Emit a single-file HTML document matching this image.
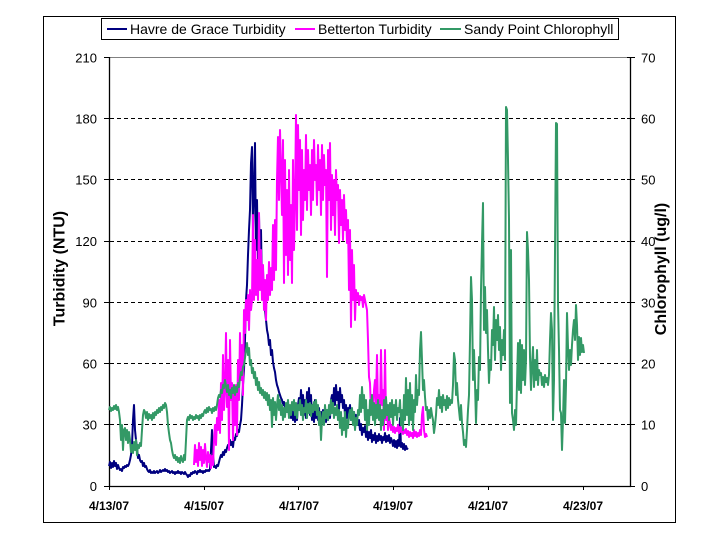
<!DOCTYPE html>
<html><head><meta charset="utf-8"><style>
html,body{margin:0;padding:0;background:#fff;}
svg{display:block;}
text{font-family:"Liberation Sans",Arial,sans-serif;fill:#000;}
</style></head><body>
<svg width="720" height="540" viewBox="0 0 720 540" xmlns="http://www.w3.org/2000/svg">
<rect x="0" y="0" width="720" height="540" fill="#fff"/>
<rect x="43.5" y="16.5" width="632" height="506" fill="none" stroke="#000" stroke-width="1"/>
<!-- plot top border -->
<line x1="110" y1="57.5" x2="630.5" y2="57.5" stroke="#808080" stroke-width="1"/>
<!-- gridlines -->
<g stroke="#000" stroke-width="1" stroke-dasharray="4,3">
<line x1="110" y1="424.5" x2="630" y2="424.5"/>
<line x1="110" y1="363.5" x2="630" y2="363.5"/>
<line x1="110" y1="302.5" x2="630" y2="302.5"/>
<line x1="110" y1="241.5" x2="630" y2="241.5"/>
<line x1="110" y1="179.5" x2="630" y2="179.5"/>
<line x1="110" y1="118.5" x2="630" y2="118.5"/>
</g>
<!-- axes -->
<g stroke="#000" stroke-width="1.3">
<line x1="109.5" y1="57" x2="109.5" y2="486.5"/>
<line x1="630.5" y1="57" x2="630.5" y2="486.5"/>
<line x1="109" y1="486.5" x2="631" y2="486.5"/>
</g>
<g stroke="#000" stroke-width="1">
<line x1="104" y1="486.5" x2="110" y2="486.5"/>
<line x1="104" y1="424.5" x2="110" y2="424.5"/>
<line x1="104" y1="363.5" x2="110" y2="363.5"/>
<line x1="104" y1="302.5" x2="110" y2="302.5"/>
<line x1="104" y1="241.5" x2="110" y2="241.5"/>
<line x1="104" y1="179.5" x2="110" y2="179.5"/>
<line x1="104" y1="118.5" x2="110" y2="118.5"/>
<line x1="104" y1="57.5" x2="110" y2="57.5"/>
<line x1="627" y1="486.5" x2="635" y2="486.5"/>
<line x1="627" y1="424.5" x2="635" y2="424.5"/>
<line x1="627" y1="363.5" x2="635" y2="363.5"/>
<line x1="627" y1="302.5" x2="635" y2="302.5"/>
<line x1="627" y1="241.5" x2="635" y2="241.5"/>
<line x1="627" y1="179.5" x2="635" y2="179.5"/>
<line x1="627" y1="118.5" x2="635" y2="118.5"/>
<line x1="627" y1="57.5" x2="635" y2="57.5"/>
<line x1="109.5" y1="486" x2="109.5" y2="490"/>
<line x1="204.5" y1="486" x2="204.5" y2="490"/>
<line x1="298.5" y1="486" x2="298.5" y2="490"/>
<line x1="393.5" y1="486" x2="393.5" y2="490"/>
<line x1="488.5" y1="486" x2="488.5" y2="490"/>
<line x1="583.5" y1="486" x2="583.5" y2="490"/>
</g>
<!-- y labels left -->
<g font-size="13" text-anchor="end">
<text x="97" y="491">0</text>
<text x="97" y="429.5">30</text>
<text x="97" y="368.5">60</text>
<text x="97" y="307.5">90</text>
<text x="97" y="246">120</text>
<text x="97" y="184.5">150</text>
<text x="97" y="123.5">180</text>
<text x="97" y="62.5">210</text>
</g>
<g font-size="13" text-anchor="start">
<text x="641" y="491">0</text>
<text x="641" y="429.5">10</text>
<text x="641" y="368.5">20</text>
<text x="641" y="307.5">30</text>
<text x="641" y="246">40</text>
<text x="641" y="184.5">50</text>
<text x="641" y="123.5">60</text>
<text x="641" y="62.5">70</text>
</g>
<!-- x labels -->
<g font-size="12" font-weight="bold" text-anchor="middle">
<text x="109" y="510">4/13/07</text>
<text x="204" y="510">4/15/07</text>
<text x="299" y="510">4/17/07</text>
<text x="393" y="510">4/19/07</text>
<text x="488" y="510">4/21/07</text>
<text x="583" y="510">4/23/07</text>
</g>
<!-- axis titles -->
<text font-size="16" font-weight="bold" text-anchor="middle" transform="translate(64.5,268.5) rotate(-90)">Turbidity (NTU)</text>
<text font-size="16" font-weight="bold" text-anchor="middle" transform="translate(666,269) rotate(-90)">Chlorophyll (ug/l)</text>

<!-- series -->
<g fill="none" stroke-width="2" stroke-linejoin="round">
<polyline stroke="#000080" points="109,466 110,462 111,468 112,463 113,467 114,461 115,466 116,463 117,469 118,465 119,468 120,470 121,469 122,471 123,467 124,468 125,466 126,467 127,465 128,466 129,464 130,460 131,455 132,445 133,420 134,405 135,430 136,440 137,448 138,458 139,455 140,460 141,462 142,461 143,466 144,463 145,467 146,466 147,469 148,471 149,472 150,470 151,473 152,472 153,473 154,471 155,473 156,472 157,471 158,473 159,472 160,470 161,472 162,471 163,470 164,471 165,469 166,471 167,470 168,472 169,471 170,473 171,472 172,471 173,473 174,472 175,474 176,472 177,473 178,471 179,473 180,472 181,474 182,472 183,473 184,474 185,472 186,474 187,475 188,477 189,475 190,476 191,473 192,474 193,472 194,473 195,471 196,472 197,474 198,471 199,472 200,470 201,472 202,471 203,473 204,471 205,472 206,470 207,471 208,470 209,471 210,469 211,450 212,430 213,455 214,467 215,466 216,468 217,465 218,466 219,462 220,458 221,455 222,457 223,452 224,455 225,450 226,452 227,448 228,445 229,447 230,440 231,445 232,442 233,447 234,438 235,440 236,434 237,436 238,430 239,432 240,425 241,420 242,405 243,385 244,370 245,340 246,300 247,285 248,255 249,230 250,210 251,163 252,147 253,230 254,190 255,143 256,250 257,200 258,260 259,215 260,275 261,230 262,290 263,270 264,300 265,310 266,320 267,330 268,335 269,345 270,340 271,355 272,350 273,362 274,368 275,372 276,380 277,385 278,388 279,392 280,395 281,398 282,400 283,405 284,402 285,408 286,404 287,412 288,405 289,415 290,410 291,418 292,408 293,420 294,412 295,422 296,415 297,420 298,405 299,398 300,410 301,390 302,408 303,395 304,415 305,400 306,418 307,392 308,410 309,388 310,415 311,395 312,420 313,405 314,422 315,400 316,418 317,410 318,420 319,408 320,423 321,412 322,420 323,410 324,418 325,412 326,422 327,410 328,420 329,412 330,418 331,400 332,395 333,410 334,388 335,405 336,385 337,400 338,392 339,410 340,388 341,402 342,395 343,408 344,400 345,415 346,405 347,418 348,408 349,412 350,405 351,420 352,410 353,418 354,412 355,420 356,415 357,422 358,425 359,420 360,430 361,424 362,435 363,428 364,432 365,426 366,437 367,430 368,440 369,432 370,438 371,430 372,442 373,435 374,440 375,433 376,443 377,436 378,441 379,434 380,440 381,436 382,443 383,437 384,440 385,433 386,442 387,436 388,441 389,435 390,443 391,438 392,441 393,446 394,440 395,447 396,441 397,448 398,440 399,446 400,418 401,447 402,443 403,449 404,444 405,450 406,446 407,449 408,448"/>
<polyline stroke="#FF00FF" points="194,465 195,445 196,462 197,450 198,466 199,443 200,460 201,447 202,466 203,450 204,463 205,444 206,458 207,467 208,452 209,462 210,455 211,468 212,456 213,465 214,440 215,425 216,445 217,418 218,430 219,400 220,433 221,383 222,420 223,355 224,410 225,390 226,333 227,407 228,360 229,450 230,340 231,400 232,383 233,440 234,390 235,425 236,385 237,435 238,360 239,400 240,333 241,380 242,345 243,395 244,310 245,333 246,300 247,320 248,295 249,330 250,290 251,310 252,300 253,215 254,300 255,240 256,295 257,260 258,300 259,213 260,290 261,250 262,300 263,265 264,310 265,280 266,320 267,275 268,300 269,262 270,295 271,268 272,290 273,225 274,280 275,220 276,270 277,180 278,137 279,200 280,130 281,170 282,215 283,140 284,283 285,160 286,255 287,190 288,275 289,170 290,260 291,205 292,283 293,160 294,250 295,200 296,115 297,230 298,125 299,190 300,140 301,235 302,150 303,220 304,170 305,200 306,135 307,210 308,150 309,190 310,165 311,215 312,150 313,200 314,140 315,180 316,165 317,205 318,145 319,190 320,160 321,215 322,145 323,200 324,155 325,185 326,170 327,277 328,150 329,200 330,143 331,230 332,175 333,215 334,180 335,235 336,170 337,200 338,185 339,243 340,190 341,225 342,200 343,240 344,195 345,230 346,210 347,243 348,220 349,290 350,230 351,327 352,250 353,300 354,265 355,320 356,290 357,300 358,293 359,305 360,296 361,300 362,297 363,307 364,295 365,300 366,305 367,310 368,340 369,377 370,383 371,410 372,395 373,415 374,390 375,380 376,405 377,355 378,410 379,395 380,417 381,350 382,405 383,390 384,430 385,350 386,420 387,405 388,430 389,418 390,423 391,430 392,425 393,432 394,427 395,433 396,428 397,431 398,425 399,433 400,427 401,432 402,428 403,434 404,430 405,433 406,429 407,435 408,431 409,437 410,432 411,436 412,433 413,438 414,430 415,436 416,432 417,437 418,433 419,436 420,430 421,435 422,415 423,407 424,430 425,437 426,434 427,437"/>
<polyline stroke="#339966" points="109,410 110,407 111,411 112,408 113,410 114,406 115,409 116,405 117,410 118,407 119,412 120,420 121,440 122,425 123,450 124,430 125,428 126,440 127,430 128,443 129,432 130,440 131,452 132,445 133,453 134,442 135,450 136,440 137,455 138,445 139,448 140,443 141,446 142,430 143,415 144,410 145,412 146,418 147,412 148,420 149,414 150,418 151,415 152,420 153,413 154,418 155,412 156,415 157,410 158,413 159,408 160,412 161,407 162,410 163,405 164,408 165,403 166,405 167,412 168,425 169,433 170,440 171,443 172,450 173,455 174,458 175,455 176,460 177,457 178,462 179,458 180,463 181,456 182,460 183,462 184,455 185,460 186,440 187,420 188,417 189,420 190,415 191,418 192,416 193,420 194,417 195,419 196,415 197,418 198,416 199,420 200,415 201,418 202,414 203,416 204,412 205,410 206,413 207,408 208,412 209,407 210,410 211,409 212,413 213,408 214,411 215,407 216,410 217,405 218,398 219,395 220,397 221,390 222,393 223,385 224,388 225,380 226,386 227,392 228,385 229,395 230,390 231,398 232,388 233,393 234,385 235,395 236,387 237,392 238,383 239,387 240,378 241,372 242,375 243,367 244,365 245,358 246,350 247,343 248,355 249,348 250,365 251,360 252,373 253,368 254,378 255,372 256,385 257,378 258,390 259,382 260,393 261,388 262,395 263,390 264,398 265,392 266,400 267,393 268,405 269,395 270,410 271,400 272,427 273,398 274,415 275,402 276,420 277,405 278,395 279,410 280,400 281,415 282,405 283,420 284,408 285,417 286,403 287,412 288,400 289,418 290,405 291,415 292,402 293,410 294,400 295,415 296,403 297,418 298,405 299,410 300,400 301,415 302,405 303,420 304,408 305,412 306,400 307,418 308,404 309,413 310,403 311,416 312,405 313,412 314,402 315,410 316,400 317,415 318,405 319,425 320,412 321,440 322,420 323,412 324,425 325,405 326,418 327,410 328,420 329,405 330,415 331,400 332,413 333,403 334,418 335,408 336,415 337,405 338,420 339,410 340,428 341,412 342,435 343,418 344,430 345,412 346,437 347,420 348,428 349,415 350,410 351,420 352,408 353,425 354,412 355,430 356,418 357,425 358,410 359,415 360,395 361,412 362,387 363,408 364,395 365,420 366,400 367,430 368,410 369,425 370,400 371,415 372,395 373,420 374,403 375,425 376,405 377,418 378,400 379,420 380,405 381,430 382,410 383,425 384,400 385,418 386,397 387,415 388,405 389,420 390,403 391,417 392,400 393,425 394,405 395,415 396,400 397,420 398,408 399,412 400,400 401,425 402,410 403,430 404,395 405,420 406,378 407,415 408,390 409,425 410,383 411,420 412,395 413,430 414,400 415,412 416,375 417,405 418,390 419,395 420,350 421,332 422,360 423,390 424,380 425,397 426,410 427,407 428,420 429,410 430,418 431,408 432,415 433,420 434,433 435,425 436,415 437,398 438,405 439,390 440,408 441,397 442,412 443,395 444,405 445,400 446,410 447,396 448,408 449,398 450,405 451,400 452,403 453,385 454,353 455,360 456,395 457,383 458,400 459,410 460,420 461,405 462,423 463,432 464,445 465,440 466,447 467,430 468,410 469,395 470,340 471,277 472,300 473,380 474,350 475,383 476,423 477,390 478,400 479,357 480,370 481,290 482,243 483,203 484,330 485,287 486,333 487,310 488,350 489,383 490,360 491,370 492,330 493,345 494,307 495,360 496,320 497,340 498,315 499,350 500,327 501,370 502,340 503,355 504,330 505,360 506,107 507,110 508,160 509,220 510,403 511,250 512,413 513,420 514,430 515,410 516,425 517,383 518,343 519,390 520,340 521,393 522,345 523,380 524,350 525,385 526,360 527,232 528,250 529,280 530,357 531,390 532,365 533,347 534,387 535,360 536,380 537,350 538,385 539,370 540,375 541,373 542,385 543,377 544,387 545,375 546,382 547,378 548,385 549,375 550,340 551,313 552,330 553,420 554,380 555,252 556,123 557,124 558,303 559,350 560,410 561,413 562,450 563,420 564,380 565,423 566,385 567,313 568,347 569,370 570,350 571,365 572,345 573,330 574,320 575,340 576,305 577,325 578,360 579,337 580,355 581,338 582,352 583,345 584,353"/>
</g>

<!-- legend -->
<rect x="101.5" y="18.5" width="517" height="21" fill="#fff" stroke="#000" stroke-width="1"/>
<line x1="107" y1="29" x2="127" y2="29" stroke="#000080" stroke-width="2"/>
<line x1="295" y1="29" x2="315" y2="29" stroke="#FF00FF" stroke-width="2"/>
<line x1="440" y1="29" x2="461" y2="29" stroke="#339966" stroke-width="2"/>
<g font-size="14">
<text x="130" y="34">Havre de Grace Turbidity</text>
<text x="318" y="34">Betterton Turbidity</text>
<text x="464" y="34">Sandy Point Chlorophyll</text>
</g>
</svg>
</body></html>
